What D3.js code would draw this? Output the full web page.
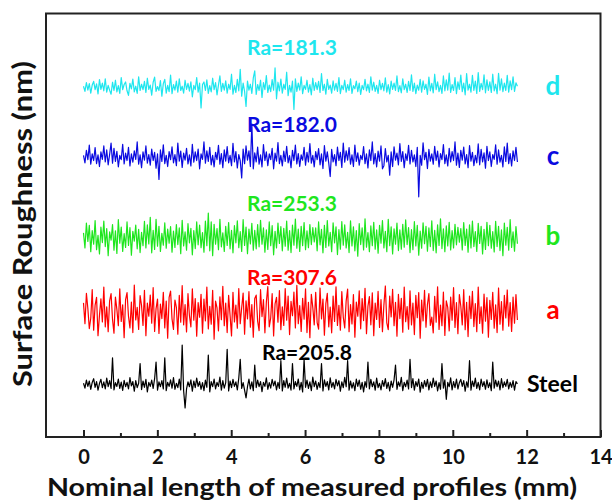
<!DOCTYPE html>
<html lang="en">
<head>
  <meta charset="UTF-8">
  <title>Surface roughness profiles</title>
  <script src="https://d3js.org/d3.v7.min.js"></script>
</head>
<body style="margin:0;background:#fff">

<div id="chart"></div>

<script>

// ---- data (nm, deviation from each profile's mean line) ----
var profileNames = ["Steel", "a", "b", "c", "d"];
var raValues = ["205.8", "307.6", "253.3", "182.0", "181.3"];
var profileOffsets = [1820, 4375, 6965, 9765, 12215];
var profileLength = 11.75;   // mm
var xTicks = [0, 2, 4, 6, 8, 10, 12, 14];
var xMinorTicks = [1, 3, 5, 7, 9, 11, 13];

var steel = [60,-110,170,-50,140,-150,90,220,-80,120,-180,50,200,-90,110,-140,240,-60,150,-120,
  950,-170,80,-50,210,-120,100,-190,160,-60,90,-140,260,-30,120,-220,150,-90,60,750,
  -160,140,-80,200,-240,90,-50,170,-120,220,800,-180,110,-60,150,-140,950,-200,90,-50,
  180,-110,260,-150,60,-90,210,-170,1400,-200,-800,-140,110,-60,180,-220,140,-90,240,-50,
  120,-150,80,-200,170,-80,1050,-240,120,-60,210,-140,90,-50,280,-180,150,-110,80,1250,
  -210,140,-90,200,-50,110,-170,240,900,-120,80,-180,-450,-60,210,-140,110,-200,700,-90,
  170,-60,120,-230,90,-50,250,-150,80,-110,200,-30,140,-170,90,-120,850,-210,150,-80,
  240,-110,60,-180,750,-140,120,-50,210,-170,90,-240,900,-80,170,-120,110,-200,280,-60,
  140,-150,80,-90,750,-210,180,-50,120,-170,250,-80,90,-140,200,-30,150,-220,110,-90,
  270,-60,850,-180,140,-110,80,-200,210,-50,170,-150,90,-240,120,-80,800,-140,200,-60,
  110,-180,240,-90,60,-170,150,-50,220,-120,90,-210,140,-80,180,700,-150,110,-50,270,
  -200,90,-60,170,-140,900,-90,220,-180,120,-50,210,-250,90,-120,150,-60,200,-170,110,
  -90,240,-50,140,-210,80,-150,750,-110,180,-500,90,-60,250,-170,120,-90,210,-140,80,
  200,-50,150,-220,110,-80,850,-180,140,-60,240,-120,90,-170,210,-50,120,-150,180,-90,
  80,-200,800,-110,170,-60,140,-170,220,-90,110,-50,200,-140,90,-80,150,-180,120,40];

var profileA = [320,-410,650,120,-580,-220,780,-640,240,510,-830,-120,460,-350,870,-520,180,-690,390,640,
  -260,-740,520,90,-480,810,-330,250,-900,430,680,-150,-560,350,-720,940,-280,160,-610,570,
  220,-470,760,-830,310,-150,590,-390,850,-680,120,450,-750,280,-230,690,-560,380,-920,510,
  730,-240,-610,420,160,-780,580,-360,920,-450,260,-700,640,-130,-520,810,-290,470,-850,330,
  -180,620,-740,450,-310,870,-590,200,-430,760,-950,380,140,-660,530,-270,900,-480,310,-720,
  580,-120,-840,690,-350,240,-570,820,-410,150,660,-780,390,-240,710,-530,260,-880,470,590,
  -320,-650,780,-160,430,-730,350,890,-520,-210,640,-840,280,510,-360,750,-620,180,-470,820,
  -290,560,-790,370,-130,700,-560,930,-410,220,-680,480,-250,810,-720,340,-900,620,160,-450,
  690,-370,-600,840,-240,450,-810,290,650,-520,170,-730,560,-330,880,-470,230,-640,710,-180,
  -560,390,800,-690,260,-420,610,-880,350,-150,740,-590,470,-300,830,-760,200,540,-450,670,
  -830,310,-260,720,-540,430,-690,250,910,-380,-620,560,-170,790,-480,340,-850,620,-230,480,
  -710,870,-340,190,-600,740,-450,310,-790,580,-200,680,-920,420,-310,760,-530,260,640,-470,
  -180,-730,550,-360,880,-610,240,-480,700,-820,390,160,-660,520,-290,850,-540,330,-760,610,
  200,-450,780,-620,340,-860,560,-230,720,-510,290,-690,870,-400,180,-740,630,-320,500,-880,
  410,-260,690,-570,250,-720,840,-430,360,-640,580,-210,770,-500,330,-680,520,-390,610,-280];

var profileB = [180,-350,520,-120,440,-480,260,-220,610,-410,90,-560,380,-160,590,-300,330,-620,210,-80,
  470,-430,250,-540,640,-180,380,-470,150,-330,560,-260,360,-600,230,-110,450,-380,300,-510,
  200,-270,580,-350,460,-210,720,-520,270,-400,650,-290,410,-470,160,-250,530,-360,310,-180,
  400,-500,240,-330,470,-230,350,-550,620,-280,210,-430,500,-170,340,-590,260,-370,560,-240,
  450,-340,190,-500,590,-270,870,-450,560,-620,480,-220,330,-410,650,-310,180,-470,410,-260,
  540,-380,270,-520,430,-170,600,-340,220,-470,640,-260,380,-550,310,-210,510,-430,270,-380,
  470,-310,620,-220,350,-500,280,-400,560,-270,430,-590,230,-350,520,-190,400,-450,340,-290,
  590,-430,260,-510,450,-250,660,-360,310,-470,410,-270,540,-410,250,-340,470,-230,360,-140,
  350,-450,560,-240,300,-520,440,-330,610,-280,200,-480,530,-170,390,-580,290,-390,570,-250,
  460,-350,200,-510,600,-280,390,-450,260,-640,500,-230,350,-420,670,-320,190,-480,420,-270,
  550,-390,280,-530,440,-180,610,-350,230,-480,650,-270,390,-560,320,-220,520,-440,280,-390,
  480,-320,630,-230,360,-510,290,-410,570,-280,440,-600,240,-360,530,-200,410,-460,350,-300,
  600,-440,270,-520,460,-260,670,-370,320,-480,420,-280,550,-420,260,-350,480,-240,370,-150,
  330,-420,540,-260,310,-500,460,-350,590,-300,220,-470,510,-190,410,-560,300,-400,550,-270,
  440,-360,220,-490,580,-300,410,-440,280,-620,520,-250,370,-430,640,-330,210,-460,400,-200];

var profileC = [90,-170,270,-60,450,-220,140,-90,360,-200,110,-300,210,-50,420,-140,280,-240,120,520,
  -180,340,-120,230,-310,90,-60,480,-210,170,-90,370,-280,140,-150,250,-50,560,-220,110,
  -340,210,-80,420,-180,120,-250,310,-90,200,-360,140,-750,280,-120,460,-200,90,-300,220,
  -60,390,-170,120,-270,520,-110,240,-330,170,-80,340,-210,110,-280,480,-150,210,-90,310,
  -380,140,-50,560,-180,250,-120,370,-240,90,-310,200,-60,440,-220,150,-340,280,-110,400,
  -170,90,-270,510,-140,220,-350,120,-90,-700,310,-200,420,-80,250,-300,1190,-380,180,-140,
  380,-220,110,-310,470,-90,210,-270,140,-60,340,-380,170,-110,540,-200,90,-280,240,-120,
  410,-170,80,-340,270,-90,450,-210,150,-300,110,-80,370,-250,200,-140,500,-180,90,-310,
  220,-60,330,-240,140,-370,430,-110,210,-180,-650,300,-140,120,-270,380,-90,200,-330,520,
  -150,250,-80,360,-220,110,-300,450,-120,180,-250,90,-60,400,-200,140,-350,280,-90,560,
  -210,150,-310,240,-110,420,-380,-270,330,-140,90,-600,210,-300,390,-80,170,-240,500,-120,
  220,-340,140,-90,440,-210,270,-140,110,-300,370,-1360,90,-250,530,-60,200,-370,300,-110,
  140,-220,410,-90,240,-310,150,-60,470,-200,110,-280,340,-140,220,-90,560,-250,170,-330,
  270,-80,380,-210,120,-340,430,-110,200,-270,90,-170,490,-240,300,-140,180,-360,410,-90,
  210,-300,120,-50,460,-220,280,-150,90,-310,390,-120,520,-200,150,-280,250,-90,370,-140];

var profileD = [60,-120,190,-80,150,-180,100,230,-60,140,-210,290,-50,170,-100,320,-150,90,-80,-220,
  200,-90,270,-140,80,-190,360,-60,120,210,-100,-260,160,-30,310,-140,60,-190,390,-90,
  130,-60,230,-160,340,-50,100,-250,200,380,-120,50,-90,260,-290,150,300,-180,90,-130,
  450,-200,120,-80,240,-150,320,-90,60,-180,270,-50,160,-110,210,-310,90,-60,360,-150,
  170,-700,120,210,-90,280,-190,80,-140,340,-60,190,-240,100,420,-120,160,-80,250,-180,
  130,-50,480,-220,90,-160,300,-100,650,-290,170,-120,-650,240,-80,130,-190,350,600,-230,
  120,-90,270,-330,190,-60,430,-160,100,-130,290,-80,700,-380,200,-100,310,-180,130,-50,
  550,-270,90,-150,240,-750,320,-120,170,-80,390,-200,90,-50,270,-150,120,-240,340,-90,
  190,-60,230,-160,500,-90,130,-220,300,-50,100,-180,250,-80,160,-120,360,-200,90,-60,
  270,-150,120,-90,320,-190,80,-30,240,-130,170,-230,90,-60,300,-100,130,-160,390,-80,
  200,-120,90,-190,270,-60,160,-100,350,-150,120,-210,240,-50,170,-90,420,-130,80,-170,
  320,-60,130,-160,230,-90,460,-120,170,-200,100,-80,300,-150,250,-50,130,-230,380,-100,
  160,-170,480,-60,210,-130,90,-190,420,-100,280,-80,520,-160,120,-90,360,-200,210,-50,
  450,-130,170,-240,500,-80,130,-150,440,-90,240,-190,540,-120,160,-60,460,-170,280,-90,
  210,-160,480,-100,130,-200,510,-80,320,-130,170,-90,440,-150,250,-60,390,-120,180,60];

var profiles = [steel, profileA, profileB, profileC, profileD];

// ---- layout ----
var width = 612, height = 500;
var margin = {top: 13.5, right: 11.5, bottom: 63, left: 46};
var colors = ["#000000", "#ff0000", "#1ee61e", "#0a0ae0", "#1ee6ee"];
var raDy = [25, 27, 27, 26, 33];
var font = "Lato, 'Open Sans', sans-serif";

var svg = d3.select("#chart").append("svg")
  .attr("width", width)
  .attr("height", height)
  .style("font-family", font);

var x = d3.scaleLinear()
  .domain([0, 14])
  .range([83.5, width - margin.right]);

var y = d3.scaleLinear()
  .domain([0, 14820])
  .range([height - margin.bottom, margin.top]);

// profiles
profiles.forEach(function(vals, k) {
  var step = profileLength / (vals.length - 1);
  var line = d3.line()
    .x(function(d, i) { return x(i * step); })
    .y(function(d) { return y(profileOffsets[k] + d); });

  svg.append("path")
    .datum(vals)
    .attr("fill", "none")
    .attr("stroke", colors[k])
    .attr("stroke-width", 1.2)
    .attr("stroke-linejoin", "round")
    .attr("d", line);

  svg.append("text")
    .attr("x", k == 0 ? 307 : 292)
    .attr("y", y(profileOffsets[k]) - raDy[k])
    .attr("text-anchor", "middle")
    .attr("font-size", 21)
    .attr("font-weight", "bold")
    .attr("fill", colors[k])
    .text("Ra=" + raValues[k]);

  svg.append("text")
    .attr("x", k == 0 ? 527 : 553)
    .attr("y", y(profileOffsets[k]) + 7)
    .attr("text-anchor", k == 0 ? "start" : "middle")
    .attr("font-size", k == 0 ? 23 : 26)
    .attr("font-weight", "bold")
    .attr("fill", colors[k])
    .text(profileNames[k]);
});

// frame
svg.append("rect")
  .attr("x", margin.left)
  .attr("y", margin.top)
  .attr("width", width - margin.right - margin.left)
  .attr("height", height - margin.bottom - margin.top)
  .attr("fill", "none")
  .attr("stroke", "#222")
  .attr("stroke-width", 2);

// x axis, ticks pointing in
var bottom = height - margin.bottom;
var xAxis = svg.append("g")
  .attr("transform", "translate(0," + bottom + ")")
  .call(d3.axisBottom(x).tickValues(xTicks).tickSize(-7).tickPadding(13).tickFormat(d3.format("d")));
xAxis.select(".domain").remove();
xAxis.selectAll("line").attr("stroke", "#222").attr("stroke-width", 2);
xAxis.selectAll("text")
  .attr("font-size", 20)
  .attr("font-weight", "bold")
  .attr("font-family", font)
  .attr("fill", "#111");

var xMinor = svg.append("g")
  .attr("transform", "translate(0," + bottom + ")")
  .call(d3.axisBottom(x).tickValues(xMinorTicks).tickSize(-4).tickFormat(""));
xMinor.select(".domain").remove();
xMinor.selectAll("line").attr("stroke", "#222").attr("stroke-width", 2);

// axis titles
svg.append("text")
  .attr("x", 312)
  .attr("y", 496)
  .attr("text-anchor", "middle")
  .attr("font-size", 25)
  .attr("font-weight", "bold")
  .attr("fill", "#111")
  .attr("textLength", 530)
  .attr("lengthAdjust", "spacingAndGlyphs")
  .text("Nominal length of measured profiles (mm)");

svg.append("text")
  .attr("transform", "translate(32,224) rotate(-90)")
  .attr("text-anchor", "middle")
  .attr("font-size", 27)
  .attr("font-weight", "bold")
  .attr("fill", "#111")
  .attr("textLength", 326)
  .attr("lengthAdjust", "spacingAndGlyphs")
  .text("Surface Roughness (nm)");

</script>

</body>
</html>
